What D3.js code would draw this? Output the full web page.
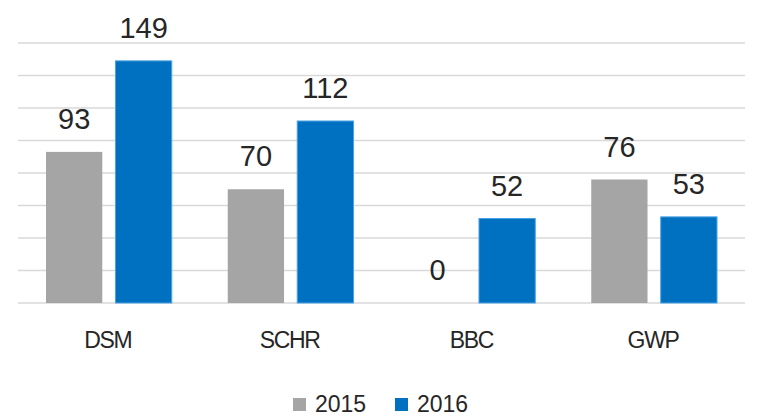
<!DOCTYPE html>
<html><head><meta charset="utf-8">
<script src="https://cdn.jsdelivr.net/npm/d3@7"></script>
<style>body{margin:0;background:#fff;} svg{display:block;}</style>
</head><body>
<svg id="chart" width="758" height="417"></svg>
<script>
const categories = ["DSM", "SCHR", "BBC", "GWP"];
const seriesNames = ["2015", "2016"];
const values2015 = [93, 70, 0, 76];
const values2016 = [149, 112, 52, 53];
const yTicks = [0, 20, 40, 60, 80, 100, 120, 140, 160];
const colors = ["#A5A5A5", "#0070C0"];

(function () {
const svg = d3.select("#chart");
const mLeft = 18, mRight = 745, mTop = 43, mBottom = 303;
const x0 = d3.scaleBand().domain(categories).range([mLeft, mRight]).paddingInner(0).paddingOuter(0);
const groupPad = 28;
const x1 = d3.scaleBand().domain(seriesNames).range([groupPad, x0.bandwidth() - groupPad]).paddingInner(0.19);
const y = d3.scaleLinear().domain([0, 160]).range([mBottom, mTop]);

// gridlines
svg.append("g").selectAll("line").data(yTicks).join("line")
  .attr("x1", mLeft).attr("x2", mRight)
  .attr("y1", d => y(d)).attr("y2", d => y(d))
  .attr("stroke", "#d9d9d9").attr("stroke-width", 1.5);

const data = categories.map((c, i) => ({cat: c, vals: [
  {s: seriesNames[0], v: values2015[i], c: 0},
  {s: seriesNames[1], v: values2016[i], c: 1}
]}));

const g = svg.append("g").selectAll("g").data(data).join("g")
  .attr("transform", d => `translate(${x0(d.cat)},0)`);

g.selectAll("rect").data(d => d.vals.filter(v => v.v > 0)).join("rect")
  .attr("x", d => x1(d.s)).attr("width", x1.bandwidth())
  .attr("y", d => y(d.v)).attr("height", d => y(0) - y(d.v))
  .attr("fill", d => colors[d.c])
  .attr("stroke", d => d.c === 1 ? "#4aa3e6" : "none")
  .attr("stroke-width", 1);

g.selectAll("text").data(d => d.vals).join("text")
  .attr("x", d => x1(d.s) + x1.bandwidth() / 2)
  .attr("y", d => y(d.v) - 23)
  .attr("text-anchor", "middle")
  .attr("font-family", "Liberation Sans, Arial, sans-serif")
  .attr("font-size", 29)
  .attr("fill", "#262626")
  .text(d => d.v);

// x axis labels
svg.append("g").selectAll("text").data(categories).join("text")
  .attr("x", d => x0(d) + x0.bandwidth() / 2 - 1)
  .attr("y", 348)
  .attr("text-anchor", "middle")
  .attr("font-family", "Liberation Sans, Arial, sans-serif")
  .attr("font-size", 23)
  .attr("letter-spacing", -1.3)
  .attr("fill", "#262626")
  .text(d => d);

// legend
const legendX = [293, 395];
const lg = svg.append("g").selectAll("g").data(seriesNames).join("g")
  .attr("transform", (d, i) => `translate(${legendX[i]},0)`);
lg.append("rect").attr("x", 0).attr("y", 398).attr("width", 13).attr("height", 13)
  .attr("fill", (d, i) => colors[i]);
lg.append("text").attr("x", 22).attr("y", 412)
  .attr("font-family", "Liberation Sans, Arial, sans-serif")
  .attr("font-size", 23)
  .attr("fill", "#262626")
  .text(d => d);
})();
</script>
</body></html>
